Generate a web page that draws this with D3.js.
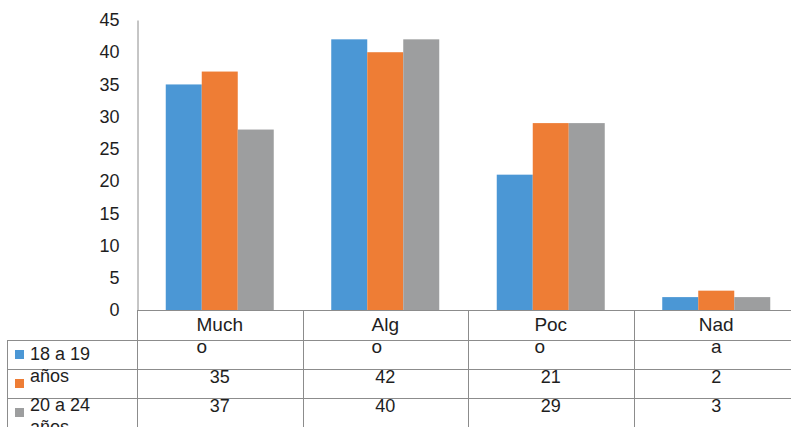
<!DOCTYPE html>
<html><head><meta charset="utf-8">
<script src="https://cdn.jsdelivr.net/npm/d3@7"></script>
<style>
body{margin:0;background:#fff}
svg{display:block;font-family:"Liberation Sans",Arial,sans-serif}
</style>
</head><body>
<svg id="c" width="791" height="427"></svg>
<script>
// ---- data ----
const categories = ["Mucho", "Algo", "Poco", "Nada"];
const categoryLines = [["Much", "o"], ["Alg", "o"], ["Poc", "o"], ["Nad", "a"]];
const seriesKeys = ["s1", "s2", "s3"];
const seriesLabelLines = [["18 a 19", "años"], ["20 a 24", "años"], []];
const seriesColors = ["#4b97d5", "#ee7d35", "#9d9e9f"];
const values1 = [35, 42, 21, 2];
const values2 = [37, 40, 29, 3];
const values3 = [28, 42, 29, 2];
const yTicks = [0, 5, 10, 15, 20, 25, 30, 35, 40, 45];

const seriesValues = [values1, values2, values3];

// ---- layout ----
const svg = d3.select("#c");
const W = 791, H = 427;
const plotLeft = 137, bandW = 165.5, base = 310, plotTop = 20;
const lineColor = "#8c8c8c", textColor = "#1e1e1e";

const x0 = d3.scaleBand().domain(categories).range([plotLeft, plotLeft + bandW * 4]);
const x1 = d3.scaleBand().domain(seriesKeys).range([28.75, bandW - 28.75]);
const y = d3.scaleLinear().domain([0, 45]).range([base, plotTop]);

// bars
const groups = svg.append("g").selectAll("g").data(categories).join("g")
  .attr("transform", d => `translate(${x0(d)},0)`);
groups.selectAll("rect")
  .data((c, i) => seriesKeys.map((k, j) => ({k, v: seriesValues[j][i], j})))
  .join("rect")
  .attr("x", d => x1(d.k))
  .attr("width", x1.bandwidth())
  .attr("y", d => y(d.v))
  .attr("height", d => y(0) - y(d.v))
  .attr("fill", d => seriesColors[d.j]);

// y axis
const yAxis = svg.append("g").attr("transform", `translate(${plotLeft + 0.5},0)`)
  .call(d3.axisLeft(y).tickValues(yTicks).tickSizeInner(0).tickSizeOuter(0).tickPadding(18));
yAxis.select(".domain").attr("stroke", lineColor);
yAxis.selectAll("text").attr("font-size", 18).attr("fill", textColor)
  .attr("font-family", "'Liberation Sans',Arial,sans-serif");

// ---- data table ----
const rowTops = [340, 369, 398];
const tbl = svg.append("g").attr("stroke", lineColor).attr("stroke-width", 1).attr("fill", "none");
tbl.append("line").attr("x1", plotLeft).attr("x2", W).attr("y1", base + 0.5).attr("y2", base + 0.5);
rowTops.forEach(t => tbl.append("line").attr("x1", 7).attr("x2", W).attr("y1", t + 0.5).attr("y2", t + 0.5));
tbl.append("line").attr("x1", 7.5).attr("x2", 7.5).attr("y1", rowTops[0]).attr("y2", H);
tbl.append("line").attr("x1", plotLeft + 0.5).attr("x2", plotLeft + 0.5).attr("y1", base).attr("y2", H);
categories.forEach(c => {
  const xr = Math.round(x0(c) + bandW) + 0.5;
  tbl.append("line").attr("x1", xr).attr("x2", xr).attr("y1", base).attr("y2", H);
});

const txt = svg.append("g").attr("fill", textColor);
// category labels (wrapped)
categories.forEach((c, i) => {
  const cx = x0(c) + bandW / 2;
  const t1 = txt.append("text").attr("x", cx).attr("y", 331).attr("text-anchor", "middle")
    .attr("font-size", 19).text(categoryLines[i][0]);
  const w = t1.node().getComputedTextLength();
  const tx = i === 3 ? cx : cx - w / 2;
  txt.append("text").attr("x", tx).attr("y", 353)
    .attr("text-anchor", i === 3 ? "middle" : "start")
    .attr("font-size", 19).text(categoryLines[i][1]);
});

// value rows (shifted one row down as in the picture; the third row falls below the visible area)
const valueBaselines = [383, 412];
valueBaselines.forEach((yb, j) => {
  seriesValues[j].forEach((v, i) => {
    txt.append("text").attr("x", x0(categories[i]) + bandW / 2).attr("y", yb)
      .attr("text-anchor", "middle").attr("font-size", 18).text(v);
  });
});

// legend keys
seriesColors.forEach((col, j) => {
  svg.append("rect").attr("x", 15).attr("y", rowTops[j] + 10).attr("width", 9).attr("height", 9)
    .attr("fill", col);
});
// legend labels (wrapped lines)
const labelStarts = [360, 411];
seriesLabelLines.forEach((lines, j) => {
  lines.forEach((l, k) => {
    txt.append("text").attr("x", 30).attr("y", labelStarts[j] + k * 21.5)
      .attr("font-size", 18).text(l);
  });
});
</script>
</body></html>
